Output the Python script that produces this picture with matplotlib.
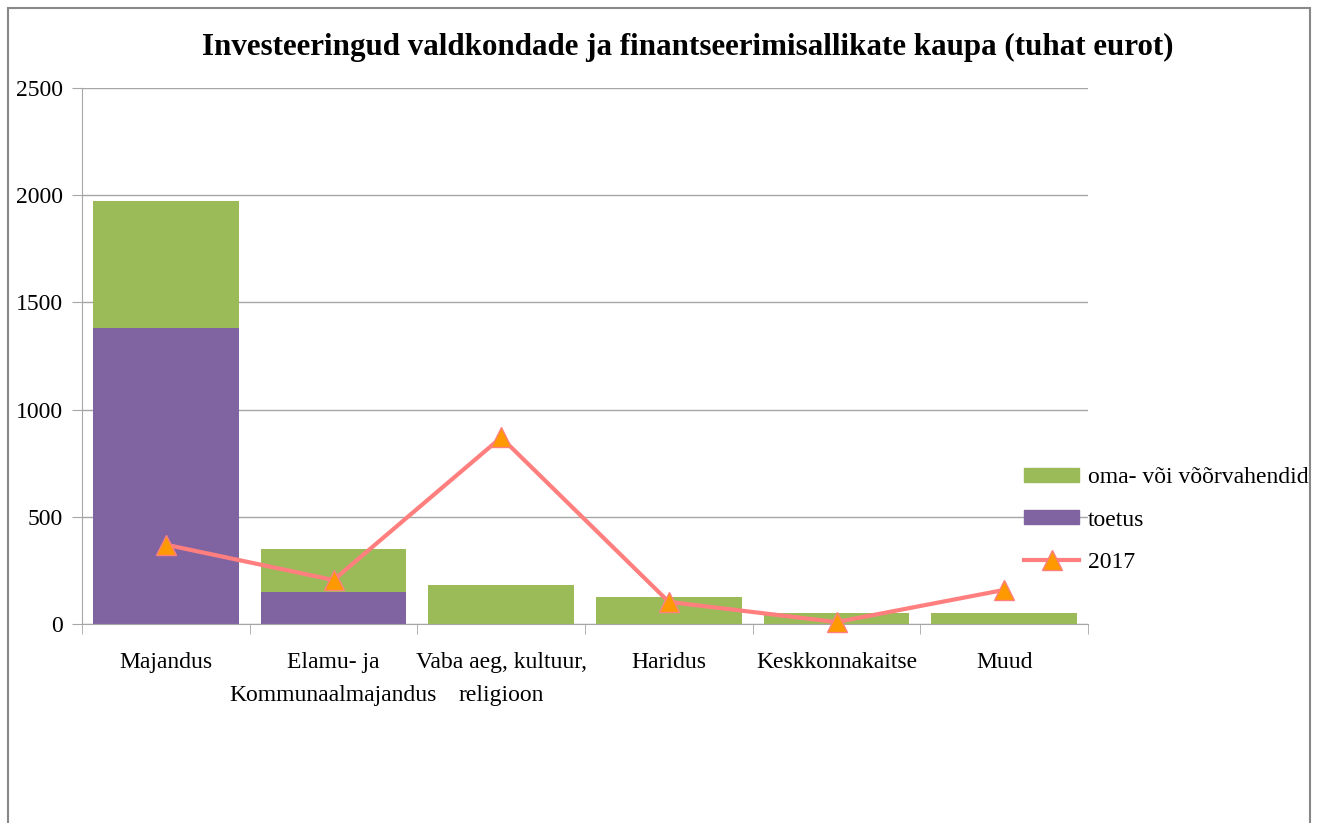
import matplotlib
matplotlib.use("Agg")
import matplotlib.pyplot as plt
import numpy as np
from matplotlib.patches import Rectangle
from matplotlib.lines import Line2D
from matplotlib.patches import Patch

categories = ["Majandus", "Elamu- ja\nKommunaalmajandus", "Vaba aeg, kultuur,\nreligioon",
              "Haridus", "Keskkonnakaitse", "Muud"]
toetus = [1380, 150, 0, 0, 0, 0]
oma = [595, 200, 180, 125, 50, 50]
line_2017 = [370, 205, 870, 103, 9, 159]
yticks = [0, 500, 1000, 1500, 2000, 2500]

plt.rcParams['font.family'] = ['Liberation Serif', 'DejaVu Serif']

fig = plt.figure(figsize=(13.18, 8.23), dpi=100)
ax = fig.add_axes([82/1318, 1-624/823, (1088-82)/1318, (624-88)/823])

x = np.arange(len(categories))
green = "#9BBB59"
purple = "#8064A2"
ax.bar(x, toetus, width=0.87, color=purple, zorder=2)
ax.bar(x, oma, width=0.87, bottom=toetus, color=green, zorder=2)
ax.plot(x, line_2017, color="#FF7F7F", lw=3, marker="^", markersize=15,
        markerfacecolor="#FF9900", markeredgecolor="#FF7F7F", markeredgewidth=1,
        zorder=3, clip_on=False)

ax.set_xlim(-0.5, len(categories) - 0.5)
ax.set_ylim(0, 2500)
ax.set_yticks(yticks)
ax.set_yticklabels([str(v) for v in yticks], fontsize=17)
ax.grid(axis='y', color='#A6A6A6', lw=1, zorder=0)
ax.set_axisbelow(True)
ax.tick_params(axis='y', length=7, color='#A6A6A6', pad=7)

# category labels: first line as tick labels, second line as extra text below
first_lines = [c.split("\n")[0] for c in categories]
second_lines = [c.split("\n")[1] if "\n" in c else "" for c in categories]
ax.set_xticks(x)
ax.set_xticklabels(first_lines, fontsize=17)
ax.tick_params(axis='x', which='major', length=0, pad=20)
ax.set_xticks(np.arange(-0.5, len(categories), 1), minor=True)
ax.tick_params(axis='x', which='minor', length=7, color='#A6A6A6')
for xi, s in zip(x, second_lines):
    if s:
        ax.annotate(s, xy=(xi, 0), xycoords=('data', 'axes fraction'),
                    xytext=(0, -(20 + 24)), textcoords='offset points',
                    ha='center', va='top', fontsize=17, annotation_clip=False)

for s in ['top', 'right']:
    ax.spines[s].set_visible(False)
ax.spines['left'].set_color('#A6A6A6')
ax.spines['bottom'].set_color('#A6A6A6')

fig.text(688/1318, 1-47/823, "Investeeringud valdkondade ja finantseerimisallikate kaupa (tuhat eurot)",
         ha='center', va='center', fontsize=22.3, fontweight='bold')

handles = [Patch(color=green), Patch(color=purple),
           Line2D([0], [0], color="#FF7F7F", lw=3, marker="^", markersize=15,
                  markerfacecolor="#FF9900", markeredgecolor="#FF7F7F")]
labels = ["oma- või võõrvahendid", "toetus", "2017"]
fig.legend(handles, labels, loc='center left', bbox_to_anchor=(1015/1318, 1-520/823),
           frameon=False, fontsize=17, handlelength=2.3, handleheight=0.5,
           labelspacing=0.9, handletextpad=0.4, borderaxespad=0)

fig.patches.append(Rectangle((8/1318, -0.1), (1310-8)/1318, 1.1 - 8/823, transform=fig.transFigure,
                             fill=False, edgecolor='#888888', lw=1.5))

fig.savefig("out.png", dpi=100)
